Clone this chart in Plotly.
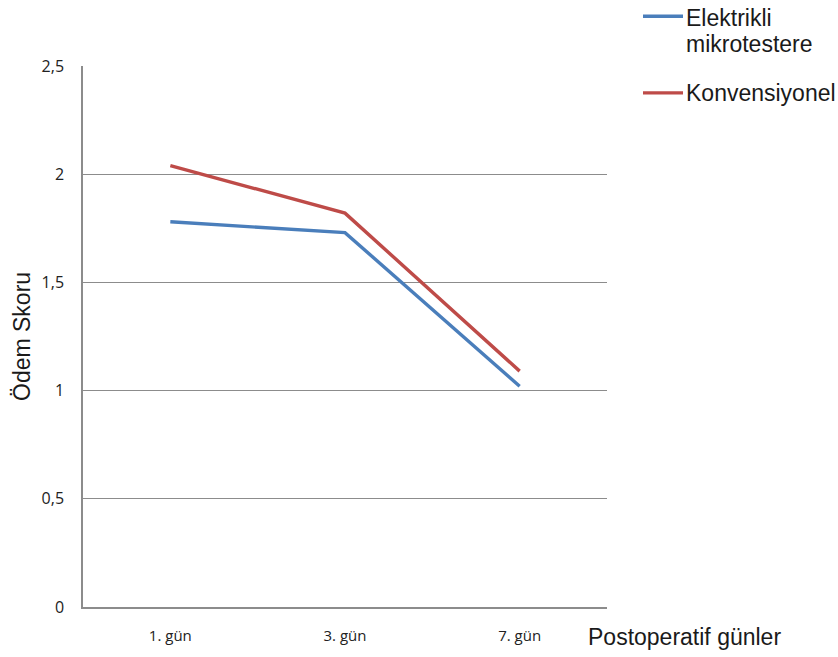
import plotly.graph_objects as go

# Postoperative days and mean oedema scores per technique
days = ["1. gün", "3. gün", "7. gün"]
elektrikli = [1.78, 1.73, 1.02]
konvensiyonel = [2.04, 1.82, 1.09]

y_ticks = [0, 0.5, 1, 1.5, 2, 2.5]
y_tick_labels = ["0", "0,5", "1", "1,5", "2", "2,5"]

BLUE = "#4A7EBB"
RED = "#BE4B48"
GRID = "#8C8C8C"
TICK_FONT = dict(family="Open Sans, Lato, sans-serif", size=15, color="#222222")
TEXT_FONT = dict(family="Liberation Sans, Arial, sans-serif", size=23, color="#1a1a1a")

# plot-area geometry in pixels, used to place the side legend and labels
L, R, T, B = 83, 607, 66, 609


def px_x(px):
    return (px - L) / (R - L)


def px_y(py):
    return (B - py) / (B - T)


fig = go.Figure()
fig.add_trace(go.Scatter(
    x=days, y=elektrikli, mode="lines", name="Elektrikli mikrotestere",
    line=dict(color=BLUE, width=3.4),
))
fig.add_trace(go.Scatter(
    x=days, y=konvensiyonel, mode="lines", name="Konvensiyonel",
    line=dict(color=RED, width=3.4),
))

# legend drawn beside the plot: sample line + label for each series
legend_items = [
    (BLUE, 16, [("Elektrikli", 18), ("mikrotestere", 44)]),
    (RED, 93, [("Konvensiyonel", 93)]),
]
shapes = []
annotations = []
for color, line_y, labels in legend_items:
    shapes.append(dict(
        type="line", xref="paper", yref="paper",
        x0=px_x(643), x1=px_x(683), y0=px_y(line_y), y1=px_y(line_y),
        line=dict(color=color, width=3.4),
    ))
    for text, ty in labels:
        annotations.append(dict(
            text=text, xref="paper", yref="paper",
            x=px_x(684), y=px_y(ty), xanchor="left", yanchor="middle",
            showarrow=False, font=TEXT_FONT,
        ))

annotations.append(dict(
    text="Postoperatif günler", xref="paper", yref="paper",
    x=px_x(586), y=px_y(639), xanchor="left", yanchor="middle",
    showarrow=False, font=TEXT_FONT,
))
annotations.append(dict(
    text="Ödem Skoru", xref="paper", yref="paper",
    x=px_x(22), y=px_y(338), xanchor="center", yanchor="middle",
    textangle=-90, showarrow=False, font=TEXT_FONT,
))

fig.update_layout(
    width=838, height=657,
    margin=dict(l=L, r=838 - R, t=T, b=657 - B),
    paper_bgcolor="white", plot_bgcolor="white",
    showlegend=False,
    xaxis=dict(
        type="category", range=[-0.5, 2.5],
        showline=True, linecolor=GRID, linewidth=1.5,
        showgrid=False, ticks="", tickfont=TICK_FONT,
        ticklabelstandoff=14, zeroline=False,
    ),
    yaxis=dict(
        range=[0, 2.5], tickvals=y_ticks, ticktext=y_tick_labels,
        showline=True, linecolor=GRID, linewidth=1.5,
        showgrid=True, gridcolor=GRID, gridwidth=1,
        ticks="", tickfont=dict(TICK_FONT, size=16), ticklabelstandoff=14,
        zeroline=False,
    ),
    shapes=shapes,
    annotations=annotations,
)

fig.write_html("out.html")
